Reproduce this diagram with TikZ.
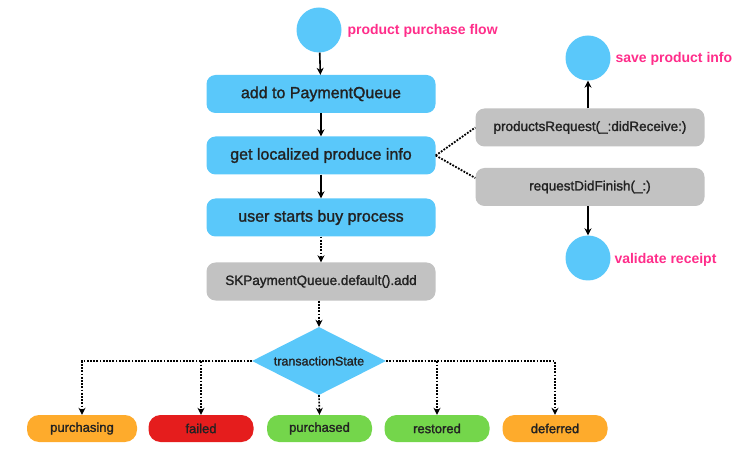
\documentclass[tikz,border=0pt]{standalone}
\usepackage{fontspec}
\setmainfont{Liberation Sans}
\newfontfamily\medfont{Liberation Sans}[FakeBold=1.5]
\usetikzlibrary{shapes.geometric,arrows.meta}
\definecolor{appblue}{HTML}{5AC8FA}
\definecolor{callgray}{HTML}{C2C2C2}
\definecolor{labelpink}{HTML}{FF2D8A}
\definecolor{textdark}{HTML}{222222}
\definecolor{stateorange}{HTML}{FEAB2C}
\definecolor{statered}{HTML}{E51D1D}
\definecolor{stategreen}{HTML}{74D64B}
\newcommand{\fsize}[1]{\fontsize{#1}{#1}\selectfont}
\tikzset{
  flowbox/.style={rectangle,rounded corners=9pt,fill=appblue,text=textdark,
    minimum width=229pt,minimum height=38pt,font=\medfont\fsize{16}},
  callbox/.style={flowbox,fill=callgray,font=\medfont\fsize{13.5}},
  endpoint/.style={circle,fill=appblue,minimum size=45pt,inner sep=0pt},
  tag/.style={anchor=west,text=labelpink,font=\bfseries\fsize{14}},
  statebox/.style={rectangle,rounded corners=12pt,text=textdark,
    minimum width=105pt,minimum height=27pt,font=\medfont\fsize{13}},
  flow/.style={-{Stealth[length=7pt,width=7pt]},line width=1.6pt},
  dotflow/.style={flow,dash pattern=on 1.8pt off 1.4pt},
  dotlink/.style={line width=1.8pt,dash pattern=on 1.8pt off 1.4pt}
}
\begin{document}
\begin{tikzpicture}[x=1pt,y=-1pt]
  \useasboundingbox (0,0) rectangle (750,457);
  \node[endpoint] (start) at (319,30) {};
  \node[tag] (starttag) at (344,31) {product purchase flow};
  \node[flowbox] (queue) at (321,94) {add to PaymentQueue};
  \node[flowbox] (info) at (321,155.5) {get localized produce info};
  \node[flowbox] (buy) at (321,217.5) {user starts buy process};
  \node[callbox] (add) at (321,281.5) {SKPaymentQueue.default().add};
  \node[diamond,aspect=2,fill=appblue,text=textdark,minimum width=134pt,minimum height=68pt,
    inner sep=0pt,font=\medfont\fsize{12.5}] (state) at (319,361) {transactionState};

  \node[callbox] (receive) at (590,127.5) {productsRequest(\_:didReceive:)};
  \node[callbox] (finish) at (590,187) {requestDidFinish(\_:)};
  \node[endpoint] (save) at (588,58) {};
  \node[tag] (savetag) at (612,59) {save product info};
  \node[endpoint] (validate) at (588,258) {};
  \node[tag] (validatetag) at (611,260) {validate receipt};

  \node[statebox,fill=stateorange,minimum width=110pt] (purchasing) at (82,428.5) {purchasing};
  \node[statebox,fill=statered] (failed) at (201,428.5) {failed};
  \node[statebox,fill=stategreen] (purchased) at (319.5,428.5) {purchased};
  \node[statebox,fill=stategreen] (restored) at (437,428.5) {restored};
  \node[statebox,fill=stateorange] (deferred) at (555,428.5) {deferred};

  \draw[flow] (start) -- (queue);
  \draw[flow] (queue) -- (info);
  \draw[flow] (info) -- (buy);
  \draw[dotflow] (buy) -- (add);
  \draw[dotflow] (add.south -| state) -- (state.north);
  \draw[dotlink] (info.east) -- (receive.west);
  \draw[dotlink] (info.east) -- ([yshift=9pt]finish.west);
  \draw[flow] (receive.north -| save) -- (save);
  \draw[flow] (finish.south -| validate) -- (validate);
  \draw[dotflow] (state.west) -| (purchasing.north);
  \draw[dotflow] (state.west) -| (failed.north);
  \draw[dotflow] (state.south) -- (purchased.north);
  \draw[dotflow] (state.east) -| (restored.north);
  \draw[dotflow] (state.east) -| (deferred.north);
\end{tikzpicture}
\end{document}
